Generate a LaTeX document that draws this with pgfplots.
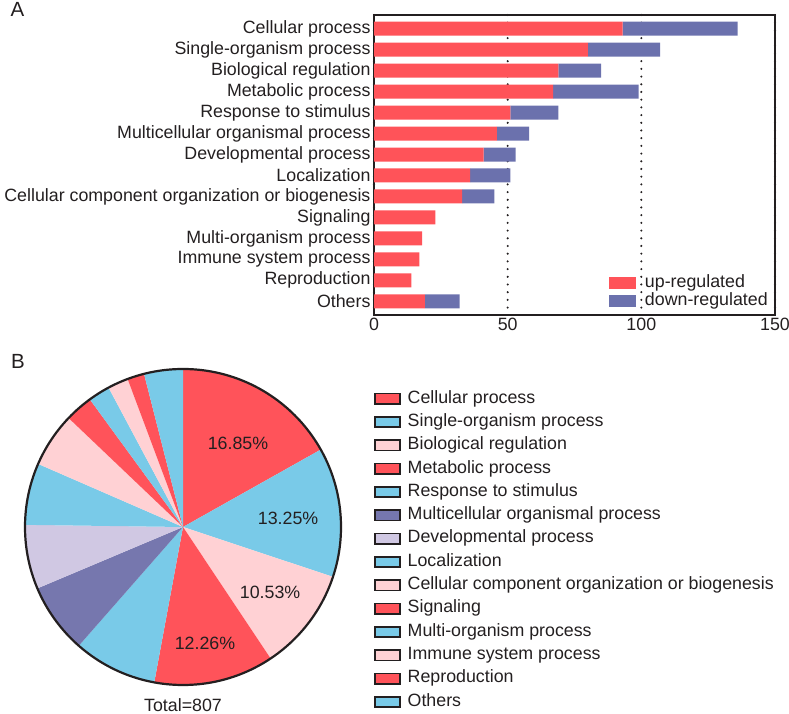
\documentclass[border=0pt]{standalone}
\usepackage{pgfplots}
\pgfplotsset{compat=1.18}
\usepackage{pgfplotstable}
\usepackage{fontspec}
\setmainfont{Liberation Sans}
\definecolor{txt}{HTML}{231F20}
\definecolor{barRed}{HTML}{FF5359}
\definecolor{barPurple}{HTML}{6B71AD}
\definecolor{pRed}{HTML}{FF535A}
\definecolor{pBlue}{HTML}{79CAE8}
\definecolor{pPink}{HTML}{FFD1D4}
\definecolor{pPurple}{HTML}{7677AE}
\definecolor{pLav}{HTML}{D0C8E3}
\newcommand{\fs}{\fontsize{17.8pt}{21pt}\selectfont}
\newcommand{\fp}{\fontsize{20.5pt}{24pt}\selectfont}
\pgfplotsset{layers/gridbelow/.define layer set={axis background,axis grid,pre main,main,axis ticks,axis lines,axis tick labels,axis descriptions,axis foreground}{}}

% stacked bar data (panel A)
\pgfplotstableread{
y up down
0 93 43
1 80 27
2 69 16
3 67 32
4 51 18
5 46 12
6 41 12
7 36 15
8 33 12
9 23 0
10 18 0
11 17 0
12 14 0
13 19 13
}\bardata

\def\pietotal{807}
\newcommand{\pieslice}[3]{%
  \fill[#1] (axis cs:0,0) -- ++({90-360*(#2/\pietotal)}:158pt)
    arc[start angle={90-360*(#2/\pietotal)}, end angle={90-360*(#3/\pietotal)}, radius=158pt] -- cycle;}

\begin{document}
\begin{tikzpicture}[font=\fs, text=txt]
\node[font=\fp] at (17.5pt,704.5pt) {A};
\node[font=\fp] at (18pt,353pt) {B};

\begin{axis}[
  at={(374pt,399pt)}, anchor=south west, scale only axis,
  width=401pt, height=300pt,
  set layers=gridbelow,
  xbar stacked, bar width=14pt,
  xmin=0, xmax=150, ymin=-0.65, ymax=13.65, y dir=reverse,
  xtick={0,50,100,150}, ytick={0,...,13},
  yticklabels={Cellular process, Single-organism process, Biological regulation, Metabolic process, Response to stimulus, Multicellular organismal process, Developmental process, Localization, Cellular component organization or biogenesis, Signaling, Multi-organism process, Immune system process, Reproduction, Others},
  major tick length=0pt,
  axis line style={line width=2pt, txt},
  xmajorgrids,
  grid style={txt, line width=2.3pt, line cap=round, dash pattern=on 0pt off 7.7pt},
  tick label style={font=\fs, text=txt},
  /pgf/number format/assume math mode=true,
  legend style={at={(0.586,0.1357)}, anchor=north west, draw=none, fill=none,
    inner sep=0pt, outer sep=0pt, row sep=0.67pt, column sep=9pt, font=\fs,
    nodes={inner sep=0pt, text height=13pt, text depth=4.33pt, text=txt}},
  legend cell align=left,
  legend image code/.code={\fill[#1] (0pt,-6pt) rectangle (27pt,6pt);},
]
\addplot[fill=barRed, draw=none] table[x=up, y=y] {\bardata};
\addplot[fill=barPurple, draw=none] table[x=down, y=y] {\bardata};
\legend{up-regulated, down-regulated}
\end{axis}

\begin{axis}[
  at={(183pt,187pt)}, anchor=center, scale only axis,
  width=316pt, height=316pt,
  xmin=-1, xmax=1, ymin=-1, ymax=1, hide axis, clip=false,
  legend style={at={(1.1044,0.9335)}, anchor=north west, draw=none, fill=none,
    inner sep=0pt, outer sep=0pt, row sep=6pt, column sep=6.7pt, font=\fs,
    nodes={inner sep=0pt, text height=13pt, text depth=4.33pt, text=txt}},
  legend cell align=left,
  legend image code/.code={\draw[#1, line width=1.6pt] (0.8pt,-5.2pt) rectangle (26.2pt,5.2pt);},
]
\pieslice{pRed}{0}{136}
\pieslice{pBlue}{136}{243}
\pieslice{pPink}{243}{328}
\pieslice{pRed}{328}{427}
\pieslice{pBlue}{427}{496}
\pieslice{pPurple}{496}{554}
\pieslice{pLav}{554}{607}
\pieslice{pBlue}{607}{658}
\pieslice{pPink}{658}{703}
\pieslice{pRed}{703}{726}
\pieslice{pBlue}{726}{744}
\pieslice{pPink}{744}{761}
\pieslice{pRed}{761}{775}
\pieslice{pBlue}{775}{807}
\draw[txt, line width=2.2pt] (axis cs:0,0) circle[radius=158pt];
\node at (axis cs:0.348,0.532) {16.85\%};
\node at (axis cs:0.665,0.057) {13.25\%};
\node at (axis cs:0.551,-0.411) {10.53\%};
\node at (axis cs:0.139,-0.734) {12.26\%};
\node at (axis cs:0,-1.127) {Total=807};
\addlegendimage{fill=pRed, draw=txt}\addlegendentry{Cellular process}
\addlegendimage{fill=pBlue, draw=txt}\addlegendentry{Single-organism process}
\addlegendimage{fill=pPink, draw=txt}\addlegendentry{Biological regulation}
\addlegendimage{fill=pRed, draw=txt}\addlegendentry{Metabolic process}
\addlegendimage{fill=pBlue, draw=txt}\addlegendentry{Response to stimulus}
\addlegendimage{fill=pPurple, draw=txt}\addlegendentry{Multicellular organismal process}
\addlegendimage{fill=pLav, draw=txt}\addlegendentry{Developmental process}
\addlegendimage{fill=pBlue, draw=txt}\addlegendentry{Localization}
\addlegendimage{fill=pPink, draw=txt}\addlegendentry{Cellular component organization or biogenesis}
\addlegendimage{fill=pRed, draw=txt}\addlegendentry{Signaling}
\addlegendimage{fill=pBlue, draw=txt}\addlegendentry{Multi-organism process}
\addlegendimage{fill=pPink, draw=txt}\addlegendentry{Immune system process}
\addlegendimage{fill=pRed, draw=txt}\addlegendentry{Reproduction}
\addlegendimage{fill=pBlue, draw=txt}\addlegendentry{Others}
\end{axis}
\pgfresetboundingbox
\path[use as bounding box] (0,0) rectangle (789pt,714pt);
\end{tikzpicture}
\end{document}
